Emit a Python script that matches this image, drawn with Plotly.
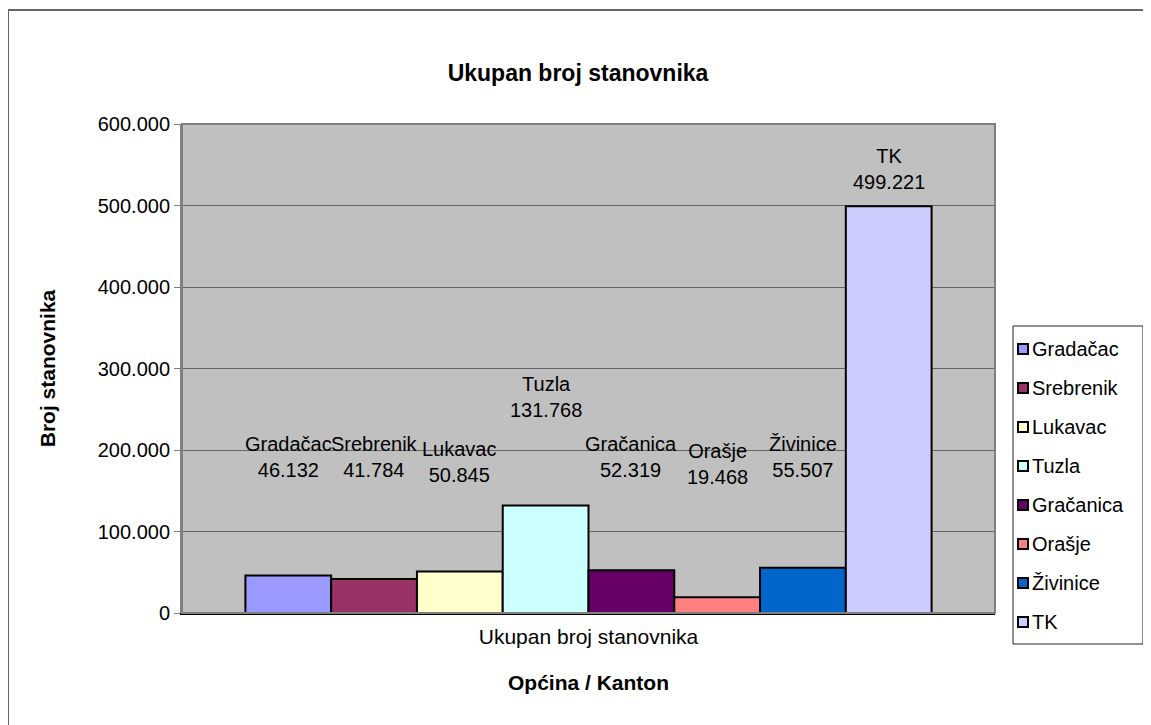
import plotly.graph_objects as go

categories = ["Ukupan broj stanovnika"]
names = ["Gradačac", "Srebrenik", "Lukavac", "Tuzla", "Gračanica", "Orašje", "Živinice", "TK"]
values = [46132, 41784, 50845, 131768, 52319, 19468, 55507, 499221]
colors = ["#9999FF", "#993366", "#FFFFCC", "#CCFFFF", "#660066", "#FF8080", "#0066CC", "#CCCCFF"]
# label placement (data units, y) as manually placed in the original chart
label_y = [191000, 191000, 185000, 265000, 191000, 183000, 191000, 545000]

OFF = 8  # page body margin
W, H = 1151 - OFF, 725 - OFF
L, R, T, B = 182 - OFF, 156, 124 - OFF, 112
pw = W - L - R
ph = H - T - B
bargap = 0.156
FONT = "Liberation Sans, Arial, sans-serif"


def fmt(v):
    return f"{v:,}".replace(",", ".")


def px(xpage):
    return (xpage - OFF - L) / pw


def py(ypage):
    return (T + ph - (ypage - OFF)) / ph


fig = go.Figure()
for i, (n, v, c) in enumerate(zip(names, values, colors)):
    fig.add_trace(go.Bar(
        x=categories, y=[v], name=n,
        marker=dict(color=c, line=dict(color="black", width=2)),
        showlegend=False,
    ))

w = 1 - bargap
n = len(names)
annotations = []
for i, (nm, v, ly) in enumerate(zip(names, values, label_y)):
    xc = -w / 2 + (i + 0.5) * w / n
    annotations.append(dict(
        x=xc, y=ly, xref="x", yref="y", text=f"{nm}<br>{fmt(v)}",
        showarrow=False, font=dict(family=FONT, size=20, color="black"),
        align="center",
    ))

shapes = [
    dict(type="rect", xref="paper", yref="paper", x0=0, x1=1, y0=0, y1=1,
         line=dict(color="#808080", width=2), fillcolor="rgba(0,0,0,0)", layer="above"),
    dict(type="rect", xref="paper", yref="paper",
         x0=px(OFF), x1=px(1151 + 40), y0=py(725 + 40), y1=py(10),
         line=dict(color="#666666", width=2), fillcolor="rgba(0,0,0,0)", layer="below"),
    # legend box
    dict(type="rect", xref="paper", yref="paper",
         x0=px(1013), x1=px(1143), y0=py(644), y1=py(326),
         line=dict(color="#222222", width=1), fillcolor="white", layer="above"),
]

# custom legend entries (Excel-style small squares)
leg_top, leg_step = 349, 39
for i, (nm, c) in enumerate(zip(names, colors)):
    yc = leg_top + i * leg_step
    shapes.append(dict(type="rect", xref="paper", yref="paper",
                       x0=px(1018), x1=px(1028), y0=py(yc + 5), y1=py(yc - 5),
                       line=dict(color="black", width=2), fillcolor=c, layer="above"))
    annotations.append(dict(x=px(1030), y=py(yc), xref="paper", yref="paper",
                            xanchor="left", yanchor="middle", text=nm, showarrow=False,
                            font=dict(family=FONT, size=20, color="black")))

fig.update_layout(
    width=W, height=H,
    margin=dict(l=L, r=R, t=T, b=B, autoexpand=False),
    paper_bgcolor="white",
    plot_bgcolor="#C0C0C0",
    barmode="group", bargap=bargap, bargroupgap=0,
    separators=",.",
    showlegend=False,
    font=dict(family=FONT, size=20, color="black"),
    title=dict(text="<b>Ukupan broj stanovnika</b>", x=(578 - OFF) / W, xanchor="center",
               y=1 - (73 - OFF) / H, yanchor="middle", font=dict(size=23)),
    xaxis=dict(showline=True, linecolor="black", linewidth=2, ticks="", showgrid=False,
               title=dict(text="<b>Općina / Kanton</b>", font=dict(size=21), standoff=28),
               tickfont=dict(size=21), ticklabelstandoff=4),
    yaxis=dict(range=[0, 600000], dtick=100000, tickformat=",d",
               showline=True, linecolor="#808080", linewidth=2,
               ticks="outside", ticklen=6, tickcolor="#808080",
               gridcolor="#666666", gridwidth=1, zeroline=False,
               title=dict(text="<b>Broj stanovnika</b>", font=dict(size=21), standoff=36),
               tickfont=dict(size=20)),
    annotations=annotations,
    shapes=shapes,
)

fig.write_html("out.html")
